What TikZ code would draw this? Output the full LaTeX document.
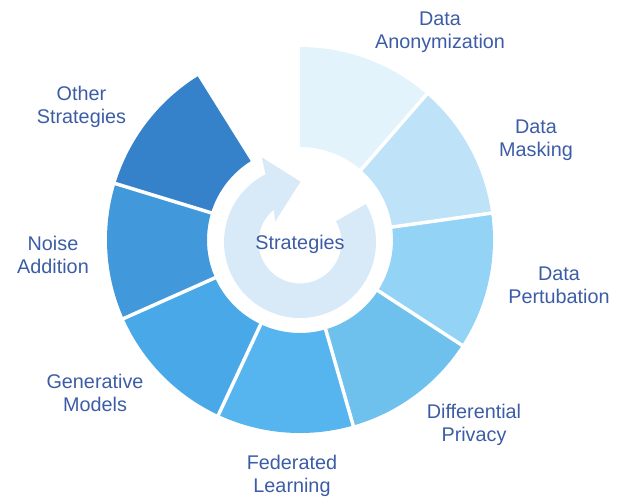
\documentclass[tikz,border=0pt]{standalone}
\usepackage{fontspec}
\setmainfont{Liberation Sans}
\usetikzlibrary{calc}
\definecolor{segA}{HTML}{E3F3FC}
\definecolor{segB}{HTML}{BEE3F8}
\definecolor{segC}{HTML}{93D3F5}
\definecolor{segD}{HTML}{6EC1EC}
\definecolor{segE}{HTML}{56B4EF}
\definecolor{segF}{HTML}{48A8E8}
\definecolor{segG}{HTML}{4199DC}
\definecolor{segH}{HTML}{3682CA}
\definecolor{ringc}{HTML}{D8EAF8}
\definecolor{txt}{HTML}{3C5DA5}
\begin{document}
\begin{tikzpicture}[x=1pt,y=1pt,
  lbl/.style={text=txt, align=center, inner sep=0pt, font=\fontsize{19.8}{23}\selectfont, anchor=north},
  sep/.style={white, line width=3.5pt}]
\useasboundingbox (0,0) rectangle (620,496);
\coordinate (c) at (300,256);
\coordinate (ac) at (300,254);
\foreach \i/\col in {0/segA,1/segB,2/segC,3/segD,4/segE,5/segF,6/segG,7/segH} {
  \pgfmathsetmacro\a{90-41*\i}
  \pgfmathsetmacro\b{90-41*(\i+1)}
  \fill[\col] ([shift={(c)}]\a:193pt) arc[start angle=\a,end angle=\b,radius=193pt]
    -- ([shift={(c)}]\b:93pt) arc[start angle=\b,end angle=\a,radius=93pt] -- cycle;
}
\foreach \a in {49,8,-33,-74,-115,-156,-197}
  \draw[sep] ([shift={(c)}]\a:88pt) -- ([shift={(c)}]\a:198pt);
\fill[ringc] ([shift={(ac)}]30:76pt) arc[start angle=30,end angle=-243,radius=76pt]
  -- ($(ac)+(-38.3,84.7)$) -- ($(ac)+(0.5,60.3)$) -- ($(ac)+(-25,20.3)$)
  -- ([shift={(ac)}]129:41.5pt) arc[start angle=129,end angle=390,radius=41.5pt] -- cycle;
\node[lbl] (l1) at (440,484.3) {Data\\Anonymization};
\node[lbl] (l2) at (536,376) {Data\\Masking};
\node[lbl] (l3) at (559,229.5) {Data\\Pertubation};
\node[lbl] (l4) at (474,92) {Differential\\Privacy};
\node[lbl] (l5) at (292,41) {Federated\\Learning};
\node[lbl] (l6) at (95,122) {Generative\\Models};
\node[lbl] (l7) at (53,260.5) {Noise\\Addition};
\node[lbl] (l8) at (81.5,410) {Other\\Strategies};
\node[lbl, anchor=base] (ctr) at (300,246.7) {Strategies};
\end{tikzpicture}
\end{document}
